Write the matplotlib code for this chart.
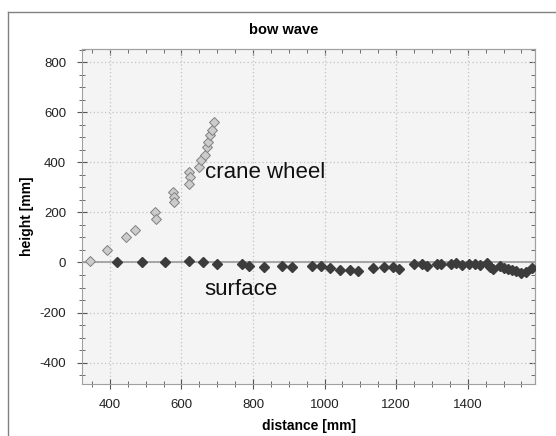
import matplotlib
matplotlib.use("Agg")
import matplotlib.pyplot as plt
from matplotlib.lines import Line2D
from matplotlib.ticker import MultipleLocator, NullFormatter

plt.rcParams['font.family'] = ['Liberation Sans', 'DejaVu Sans']
plt.rcParams['axes.unicode_minus'] = False

# crane wheel points (distance, height) in mm
crane_x = [345, 393, 445, 470, 525, 530, 575, 580, 580, 620, 625, 620,
           650, 655, 665, 670, 675, 680, 685, 690]
crane_y = [5, 50, 100, 130, 200, 175, 280, 260, 240, 360, 340, 315,
           380, 410, 430, 460, 480, 510, 530, 560]

# water surface points
surf_x = [420, 490, 555, 620, 660, 700, 770, 790, 830, 880, 910, 965,
          991, 1016, 1044, 1072, 1094, 1135, 1165, 1190, 1208, 1250, 1272,
          1285, 1314, 1326, 1352, 1368, 1385, 1404, 1420, 1434, 1455, 1461,
          1471, 1489, 1501, 1513, 1525, 1536, 1550, 1562, 1581]
surf_y = [3, 3, 0, 5, 0, -5, -5, -15, -18, -15, -18, -15,
          -16, -22, -29, -29, -34, -22, -18, -20, -26, -8, -5,
          -16, -5, -5, -5, -3, -9, -7, -5, -10, -3, -18,
          -26, -16, -22, -26, -32, -36, -40, -37, -22]

fig = plt.figure(figsize=(5.56, 4.36), dpi=100, facecolor='white')
ax = fig.add_axes([82 / 556, 1 - 384 / 436, (535 - 82) / 556, (384 - 49) / 436])
ax.set_facecolor('#f4f4f4')

# outer frame of the panel (left and top edges only)
fx = 8 / 556
fy = 1 - 12 / 436
fig.add_artist(Line2D([fx, fx], [0, fy], color='#808080', lw=1.0, transform=fig.transFigure))
fig.add_artist(Line2D([fx, 1], [fy, fy], color='#808080', lw=1.0, transform=fig.transFigure))

ax.axhline(0, color='#a0a0a0', lw=1.3, zorder=1)

ax.plot(surf_x, surf_y, 'D', color='#3c3c3c', ms=5, mec='#3c3c3c', zorder=3)
ax.plot(crane_x, crane_y, 'D', color='#cccccc', ms=5.5, mec='#808080', mew=0.7, zorder=3)

ax.text(665, 360, 'crane wheel', fontsize=16, va='center', ha='left', color='#111111')
ax.text(665, -108, 'surface', fontsize=16, va='center', ha='left', color='#111111')

ax.set_xlim(322, 1588)
ax.set_ylim(-485, 852)
ax.xaxis.set_major_locator(MultipleLocator(200))
ax.xaxis.set_minor_locator(MultipleLocator(50))
ax.yaxis.set_major_locator(MultipleLocator(200))
ax.yaxis.set_minor_locator(MultipleLocator(50))
ax.grid(True, which='major', color='#c4c4c4', linestyle=(0, (1, 2)), lw=0.9)
ax.set_axisbelow(True)

ax.tick_params(which='both', direction='inout', colors='#555555',
               labelcolor='#222222', labelsize=9.5)
ax.tick_params(which='major', length=7, width=0.8)
ax.tick_params(which='minor', length=4, width=0.6)
ax.tick_params(axis='x', which='major', pad=7)
ax.tick_params(axis='y', which='major', pad=8)

# top and right: inward ticks only
top = ax.secondary_xaxis('top')
right = ax.secondary_yaxis('right')
top.xaxis.set_major_locator(MultipleLocator(200))
top.xaxis.set_minor_locator(MultipleLocator(50))
top.xaxis.set_major_formatter(NullFormatter())
right.yaxis.set_major_locator(MultipleLocator(200))
right.yaxis.set_minor_locator(MultipleLocator(50))
right.yaxis.set_major_formatter(NullFormatter())
for sec in (top, right):
    sec.tick_params(which='both', direction='in', colors='#555555')
    sec.tick_params(which='major', length=4, width=0.8)
    sec.tick_params(which='minor', length=3, width=0.6)
    for s in sec.spines.values():
        s.set_color('#a0a0a0')

for s in ax.spines.values():
    s.set_color('#a0a0a0')

ax.set_xlabel('distance [mm]', fontsize=10, fontweight='bold', labelpad=6)
ax.set_ylabel('height [mm]', fontsize=10, fontweight='bold', labelpad=4)
fig.text(284 / 556, 1 - 30 / 436, 'bow wave', fontsize=10.5, fontweight='bold',
         ha='center', va='center')

fig.savefig('out.png', dpi=100)
